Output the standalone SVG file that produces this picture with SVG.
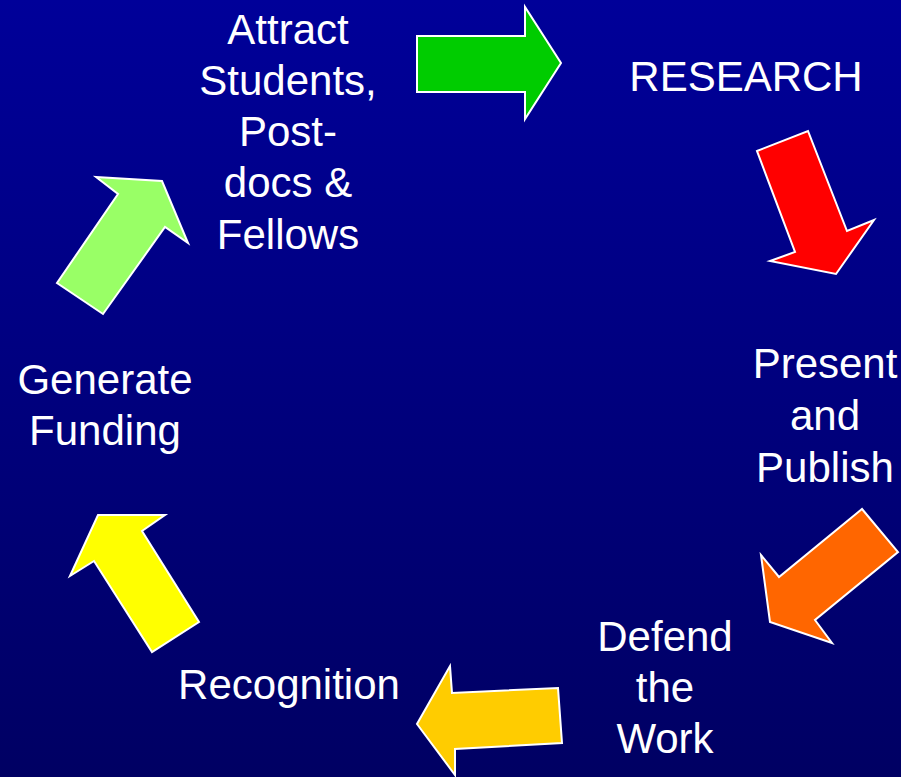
<svg xmlns="http://www.w3.org/2000/svg" width="901" height="777" viewBox="0 0 901 777">
<defs>
<linearGradient id="bg" x1="0" y1="0" x2="0" y2="1">
<stop offset="0" stop-color="#000099"/>
<stop offset="1" stop-color="#000063"/>
</linearGradient>
<style>
.t{font-family:"Liberation Sans",Arial,sans-serif;font-size:42px;fill:#ffffff;text-anchor:middle}
.a{stroke:#ffffff;stroke-width:2;stroke-linejoin:miter}
</style>
</defs>
<rect x="0" y="0" width="901" height="777" fill="url(#bg)"/>
<g id="connectors">
<polygon class="a" fill="#00cc00" points="417,36 525,36 525,7 561,63 525,119 525,92 417,92"/>
<polygon class="a" fill="#ff0000" points="757,151 808,131 847,231 874,220 836,274 770,261 795,252"/>
<polygon class="a" fill="#ff6600" points="862,509 898,552 815,620 832,643 770,622 761,555 779,577"/>
<polygon class="a" fill="#ffcc00" points="450,666 452,693 558,688 562,743 455,749 455,775 417,724"/>
<polygon class="a" fill="#ffff00" points="98,515 165,515 142,531 199,622 152,652 94,561 70,576"/>
<polygon class="a" fill="#99ff66" points="96,177 162,181 188,243 165,227 103,314 57,283 118,194"/>
</g>
<g id="node-attract">
<text class="t" x="288" y="44">Attract</text>
<text class="t" x="288" y="95">Students,</text>
<text class="t" x="288" y="146">Post-</text>
<text class="t" x="288" y="197">docs &amp;</text>
<text class="t" x="288" y="249">Fellows</text>
</g>
<g id="node-research">
<text class="t" x="746" y="91">RESEARCH</text>
</g>
<g id="node-present">
<text class="t" x="825" y="378">Present</text>
<text class="t" x="825" y="430">and</text>
<text class="t" x="825" y="482">Publish</text>
</g>
<g id="node-defend">
<text class="t" x="665" y="651">Defend</text>
<text class="t" x="665" y="702">the</text>
<text class="t" x="665" y="753">Work</text>
</g>
<g id="node-recognition">
<text class="t" x="289" y="699">Recognition</text>
</g>
<g id="node-funding">
<text class="t" x="105" y="394">Generate</text>
<text class="t" x="105" y="445">Funding</text>
</g>
</svg>
